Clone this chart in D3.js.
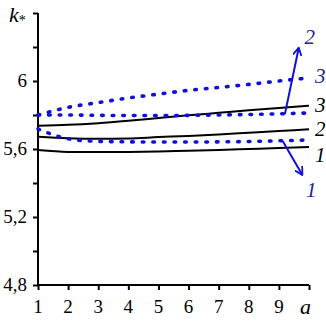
<!DOCTYPE html>
<html><head><meta charset="utf-8">
<script src="https://cdn.jsdelivr.net/npm/d3@7"></script>
<style>
body{margin:0;background:#fff;font-family:"Liberation Serif","Times New Roman",serif}
svg text{font-family:"Liberation Serif","Times New Roman",serif !important}
</style>
</head><body><svg id="c" width="326" height="321"></svg>
<script>
const aVals = [1,2,3,4,5,6,7,8,9,10];
const black1 = [5.594,5.583,5.582,5.583,5.586,5.590,5.594,5.600,5.606,5.612];
const black2 = [5.672,5.663,5.660,5.662,5.670,5.677,5.686,5.696,5.706,5.716];
const black3 = [5.737,5.742,5.752,5.766,5.782,5.798,5.813,5.828,5.841,5.855];
const blue1  = [5.718,5.660,5.645,5.642,5.641,5.641,5.642,5.644,5.648,5.653];
const blue2  = [5.800,5.800,5.798,5.797,5.797,5.798,5.800,5.803,5.807,5.812];
const blue3  = [5.800,5.845,5.873,5.900,5.923,5.945,5.962,5.980,6.000,6.018];
const yTickVals = [4.8,5.0,5.2,5.4,5.6,5.8,6.0,6.2,6.4];
const yTickLabels = {"4.8":"4,8","5.2":"5,2","5.6":"5,6","6":"6"};
const xTickLabels = ["1","2","3","4","5","6","7","8","9",""];

const svg = d3.select("#c");
const x = d3.scaleLinear().domain([1,10]).range([38,309]);
const y = d3.scaleLinear().domain([4.8,6.4]).range([285,13]);
const blue = "#1010d8";

function txt(px, py, t, size, italic, color){
  return svg.append("text").attr("x",px).attr("y",py)
    .style("font-size",size+"px")
    .style("font-style",italic?"italic":"normal").attr("fill",color).text(t);
}

const gy = svg.append("g").attr("transform",`translate(${x(1)},0)`)
  .call(d3.axisLeft(y).tickValues(yTickVals).tickSize(5).tickFormat(""));
const gx = svg.append("g").attr("transform",`translate(0,${y(4.8)})`)
  .call(d3.axisBottom(x).tickValues(aVals).tickSize(5).tickFormat(""));
[gx,gy].forEach(g=>{
  g.attr("font-family",null);
  g.select(".domain").attr("stroke","#000").attr("stroke-width",2);
  g.selectAll(".tick line").attr("stroke","#000").attr("stroke-width",2);
  g.selectAll(".tick text").remove();
});
gy.select(".domain").attr("d",`M0,${y(6.4)}V${y(4.8)}`);
gx.select(".domain").attr("d",`M${x(1)},0H${x(10)}`);

yTickVals.forEach(v=>{
  const l = yTickLabels[String(+v.toFixed(1))];
  if(l) txt(x(1)-11, y(v)+6, l, 19, false, "#000").attr("text-anchor","end");
});
aVals.forEach((v,i)=>{
  if(xTickLabels[i]) txt(x(v), y(4.8)+28, xTickLabels[i], 19, false, "#000").attr("text-anchor","middle");
});
txt(x(10)-9, y(4.8)+29, "a", 22, true, "#000");
const kt = txt(9, 22, "", 22, true, "#000");
kt.append("tspan").text("k");
kt.append("tspan").style("font-size","14px").attr("dy",3).style("font-style","normal").text("*");

const line = d3.line().x((d,i)=>x(aVals[i])).y(d=>y(d)).curve(d3.curveMonotoneX);
[black1,black2,black3].forEach(s=>{
  svg.append("path").attr("d",line(s)).attr("fill","none").attr("stroke","#000").attr("stroke-width",2);
});
[blue1,blue2,blue3].forEach(s=>{
  svg.append("path").attr("d",line(s)).attr("fill","none").attr("stroke",blue)
    .attr("stroke-width",3.6).attr("stroke-linecap","round").attr("stroke-dasharray","1.6 9");
});

txt(x(10.2), y(5.860)+7, "3", 21, true, "#000");
txt(x(10.2), y(5.718)+7, "2", 21, true, "#000");
txt(x(10.2), y(5.566)+7, "1", 21, true, "#000");
txt(x(10.2), y(6.030)+7, "3", 21, true, "#22229a");
txt(x(9.85), y(6.256)+7, "2", 21, true, "#22229a");
txt(x(9.9), y(5.36)+7, "1", 21, true, "#22229a");

svg.append("defs").append("marker").attr("id","ah").attr("viewBox","0 0 10 10")
  .attr("refX",9).attr("refY",5).attr("markerWidth",9).attr("markerHeight",9)
  .attr("markerUnits","userSpaceOnUse").attr("orient","auto")
  .append("path").attr("d","M0,0L9,5L0,10").attr("fill","none").attr("stroke",blue).attr("stroke-width",2);
const arrow=(a0,v0,a1,v1)=>svg.append("line").attr("x1",x(a0)).attr("y1",y(v0)).attr("x2",x(a1)).attr("y2",y(v1))
  .attr("stroke",blue).attr("stroke-width",2).attr("marker-end","url(#ah)");
arrow(9.2,5.805,9.66,6.196);
arrow(9.13,5.645,9.78,5.447);
</script></body></html>
